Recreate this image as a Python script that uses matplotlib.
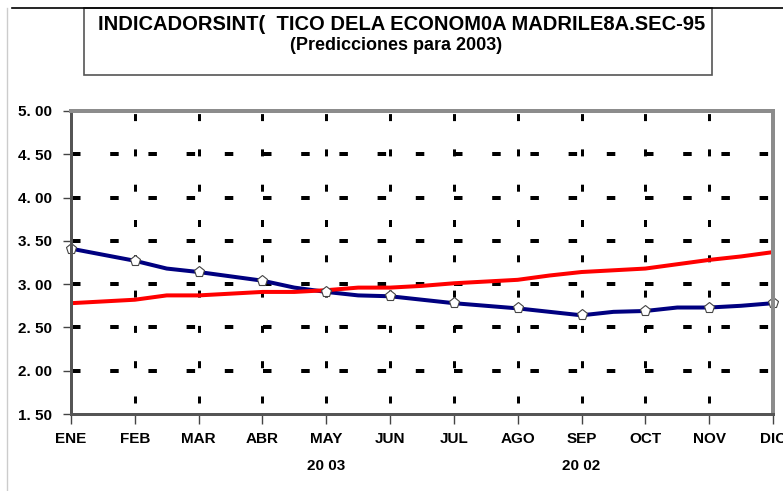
import matplotlib
matplotlib.use('Agg')
import matplotlib.pyplot as plt
from matplotlib.patches import Rectangle
from matplotlib.lines import Line2D

plt.rcParams['font.family'] = ['Liberation Sans', 'DejaVu Sans']
plt.rcParams['lines.scale_dashes'] = False

# meses (eje x) y etiquetas
meses = ['ENE', 'FEB', 'MAR', 'ABR', 'MAY', 'JUN', 'JUL', 'AGO', 'SEP', 'OCT', 'NOV', 'DIC']
# posiciones cada medio mes (la linea tiene vertices intermedios)
x_medio = [i / 2 for i in range(23)]

# serie azul (2002) leida cada medio mes
azul = [3.41, 3.34, 3.27, 3.18, 3.14, 3.09, 3.04, 2.96, 2.91, 2.87, 2.86, 2.82,
        2.78, 2.75, 2.72, 2.68, 2.64, 2.68, 2.69, 2.73, 2.73, 2.75, 2.78]
# serie roja (2003) leida cada medio mes
roja = [2.78, 2.80, 2.82, 2.87, 2.87, 2.89, 2.91, 2.91, 2.93, 2.96, 2.96, 2.98,
        3.01, 3.03, 3.05, 3.10, 3.14, 3.16, 3.18, 3.23, 3.28, 3.32, 3.37]

y_ticks = [1.5, 2.0, 2.5, 3.0, 3.5, 4.0, 4.5, 5.0]
y_labels = ['1. 50', '2. 00', '2. 50', '3. 00', '3. 50', '4. 00', '4. 50', '5. 00']

titulo1 = 'INDICADORSINT(  TICO DELA ECONOM0A MADRILE8A.SEC-95'
titulo2 = '(Predicciones para 2003)'

PX = 0.72  # puntos por pixel a dpi 100

fig = plt.figure(figsize=(7.83, 4.91), dpi=100)
ax = fig.add_axes([71 / 783, 77 / 491, 702 / 783, 303 / 491])
ax.set_xlim(0, 11)
ax.set_ylim(1.5, 5.0)

# cuadricula punteada gruesa
for yv in y_ticks[1:]:
    ax.plot([0, 11], [yv, yv], color='black', lw=4 * PX, zorder=1,
            linestyle=(-1 * PX, (8.5 * PX, 29.7 * PX)), solid_capstyle='butt')
for i in range(1, 12):
    ax.plot([i, i], [1.5, 5.0], color='black', lw=3 * PX, zorder=1,
            linestyle=(24.3 * PX, (7 * PX, 28.3 * PX)), clip_on=(i < 11))

# series
ax.plot(x_medio, azul, color='#000080', lw=4 * PX, zorder=3)
ax.plot(x_medio, roja, color='#ff0000', lw=4 * PX, zorder=4)
ax.plot(x_medio[::2], azul[::2], linestyle='none', marker='p', markersize=8,
        markerfacecolor='white', markeredgecolor='#444444', markeredgewidth=0.8,
        zorder=5, clip_on=False)

# ejes
for s in ['left', 'bottom']:
    ax.spines[s].set_color('#555555')
    ax.spines[s].set_linewidth(3 * PX)
for s in ['top', 'right']:
    ax.spines[s].set_color('#8c8c8c')
    ax.spines[s].set_linewidth(4 * PX)
for s in ax.spines.values():
    s.set_zorder(6)

ax.set_yticks(y_ticks)
ax.set_yticklabels(y_labels, fontsize=11, fontweight='bold')
ax.set_xticks(range(12))
ax.set_xticklabels(meses, fontsize=11, fontweight='bold')
ax.tick_params(axis='y', length=8 * PX, width=1, color='#444444', pad=8)
ax.tick_params(axis='x', length=10 * PX, width=1, color='#444444', pad=6)

# etiquetas de año
ax.text(4, -0.172, '20 03', transform=ax.get_xaxis_transform(), ha='center',
        va='center', fontsize=11, fontweight='bold')
ax.text(8, -0.172, '20 02', transform=ax.get_xaxis_transform(), ha='center',
        va='center', fontsize=11, fontweight='bold')

# recuadro del titulo y bordes del grafico
fig.patches.append(Rectangle((84 / 783, (491 - 75) / 491), 628 / 783, 67 / 491,
                             transform=fig.transFigure, fill=False,
                             edgecolor='#555555', lw=1.2))
fig.lines.append(Line2D([12 / 783, 1], [1 - 8 / 491, 1 - 8 / 491],
                        transform=fig.transFigure, color='black', lw=1.2))
fig.lines.append(Line2D([7 / 783, 7 / 783], [0, 1 - 8 / 491],
                        transform=fig.transFigure, color='#cccccc', lw=1))

fig.text(402 / 783, 1 - 25 / 491, titulo1, ha='center', va='center', fontsize=14.5,
         fontweight='bold')
fig.text(396 / 783, 1 - 45 / 491, titulo2, ha='center', va='center', fontsize=13,
         fontweight='bold')

fig.savefig('out.png', dpi=100)
